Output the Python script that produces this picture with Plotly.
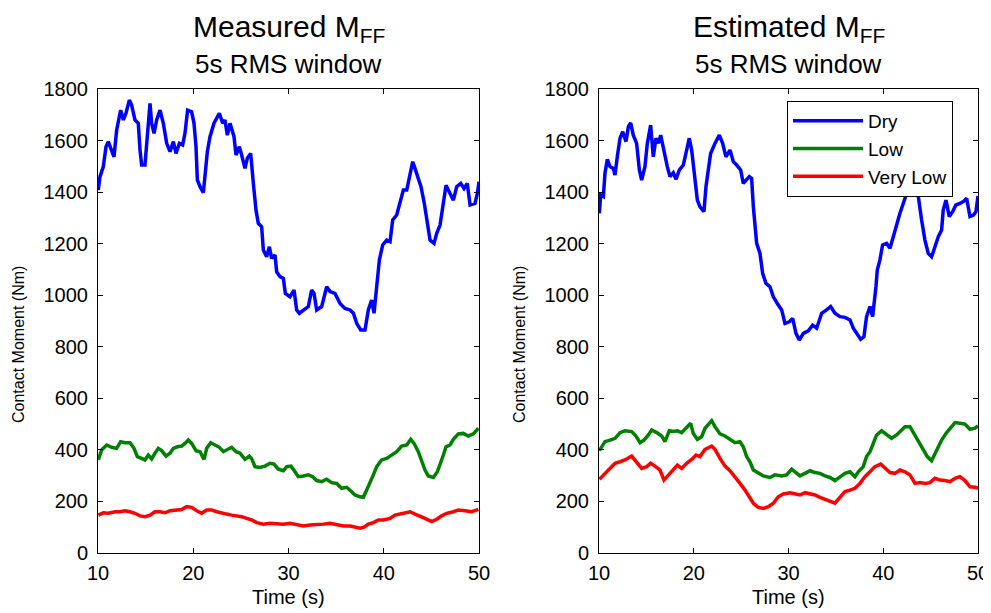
import plotly.graph_objects as go

# ---------------- data (time s, contact moment Nm) ----------------
measured_dry = [(10.03,1408),(10.21,1460),(10.56,1499),(10.84,1576),(11.08,1596),(11.43,1563),(11.68,1537),(11.96,1641),
    (12.38,1718),(12.66,1680),(12.94,1706),(13.29,1757),(13.53,1738),(13.88,1680),(14.23,1667),(14.41,1563),(14.58,1505),
    (14.93,1505),(15.11,1602),(15.46,1744),(15.63,1667),(15.88,1628),(16.16,1680),(16.51,1718),(16.86,1667),(17.21,1589),
    (17.56,1557),(17.91,1596),(18.19,1550),(18.54,1589),(18.89,1583),(19.13,1628),(19.41,1718),(19.83,1712),(20.08,1667),
    (20.29,1576),(20.43,1447),(20.71,1421),(21.06,1398),(21.23,1473),(21.48,1557),(21.76,1615),(22.18,1667),(22.74,1706),
    (23.09,1667),(23.33,1680),(23.58,1621),(23.86,1667),(24.28,1615),(24.49,1544),(24.84,1576),(25.08,1544),(25.43,1492),
    (25.68,1531),(26.03,1550),(26.31,1434),(26.59,1330),(26.83,1279),(27.18,1266),(27.36,1175),(27.71,1149),(27.99,1188),
    (28.23,1143),(28.58,1156),(28.76,1091),(29.11,1072),(29.46,1065),(29.67,1007),(30.16,994),(30.58,1020),(30.86,943),
    (31.14,930),(31.56,943),(32.08,956),(32.43,1020),(32.68,1007),(32.96,943),(33.48,956),(34.01,1033),(34.36,1014),
    (34.88,1007),(35.41,968),(35.93,949),(36.46,943),(36.81,930),(37.16,891),(37.58,865),(38.03,865),(38.38,943),
    (38.73,981),(38.98,930),(39.26,1033),(39.54,1137),(39.89,1195),(40.31,1214),(40.66,1208),(40.94,1292),(41.36,1311),
    (41.71,1356),(42.06,1408),(42.41,1408),(42.69,1453),(43.04,1518),(43.28,1492),(43.63,1447),(43.91,1421),(44.26,1356),
    (44.51,1292),(44.86,1214),(45.28,1201),(45.56,1240),(45.91,1272),(46.19,1343),(46.54,1427),(46.96,1395),(47.31,1369),
    (47.66,1421),(48.08,1434),(48.43,1414),(48.77,1434),(49.06,1350),(49.58,1356),(49.83,1395),(50.00,1440)]

measured_low = [(10.03,361),(10.38,400),(10.91,419),(11.43,410),(11.96,406),(12.38,432),(12.83,428),(13.36,428),(13.78,406),
    (14.13,374),(14.58,367),(14.93,361),(15.28,380),(15.63,365),(15.98,387),(16.33,406),(16.68,397),(17.14,376),(17.56,387),
    (17.91,406),(18.33,412),(18.78,415),(19.13,425),(19.48,438),(19.83,425),(20.29,397),(20.71,393),(21.13,363),(21.41,406),
    (21.83,428),(22.28,419),(22.74,410),(23.16,393),(23.58,402),(24.03,410),(24.49,393),(24.91,387),(25.43,363),(25.89,376),
    (26.13,366),(26.48,335),(27.01,332),(27.53,337),(28.06,348),(28.48,345),(28.93,325),(29.46,319),(29.81,335),(30.26,337),
    (30.68,315),(31.03,296),(31.56,299),(32.08,303),(32.54,296),(32.96,281),(33.48,277),(34.01,286),(34.53,273),(35.06,270),
    (35.58,251),(36.11,255),(36.63,238),(36.98,225),(37.51,218),(37.86,216),(38.21,244),(38.56,270),(38.91,303),(39.26,335),
    (39.78,361),(40.31,367),(40.83,380),(41.36,393),(41.88,415),(42.41,419),(42.83,441),(43.18,425),(43.63,393),(43.98,361),
    (44.33,322),(44.68,299),(45.21,293),(45.63,315),(45.91,341),(46.26,380),(46.54,412),(46.96,419),(47.31,441),(47.83,462),
    (48.36,464),(48.88,454),(49.41,462),(49.93,484)]

measured_verylow = [(10.03,147),(10.56,156),(11.08,154),(11.78,160),(12.31,160),(12.83,164),(13.36,160),(13.88,154),
    (14.41,144),(14.93,141),(15.46,147),(15.98,160),(16.51,160),(17.03,156),(17.56,164),(18.26,167),(18.78,169),(19.31,180),
    (19.83,177),(20.36,164),(20.88,154),(21.41,167),(21.93,167),(22.46,160),(22.98,154),(23.51,151),(24.03,147),(24.56,144),
    (25.08,141),(25.61,134),(26.13,128),(26.66,118),(27.36,112),(28.06,115),(28.76,112),(29.46,112),(30.16,115),(30.86,109),
    (31.56,105),(32.26,109),(32.96,109),(33.66,112),(34.36,115),(35.06,109),(35.76,105),(36.46,105),(36.98,100),(37.51,96),
    (37.93,100),(38.38,112),(38.91,118),(39.43,128),(39.96,128),(40.66,134),(41.18,147),(41.71,151),(42.23,156),(42.76,160),
    (43.28,151),(43.81,144),(44.33,134),(45.03,122),(45.56,131),(46.08,144),(46.61,154),(47.31,160),(47.83,167),(48.53,164),
    (49.23,160),(49.93,169)]

estimated_dry = [(10.04,1318),(10.18,1389),(10.46,1383),(10.63,1473),(10.88,1527),(11.16,1499),(11.51,1492),(11.69,1466),
    (11.93,1537),(12.22,1609),(12.50,1634),(12.85,1596),(13.10,1654),(13.34,1669),(13.62,1621),(13.97,1589),(14.26,1486),
    (14.50,1447),(14.85,1499),(15.10,1589),(15.45,1660),(15.73,1537),(16.01,1609),(16.26,1589),(16.51,1621),(16.86,1557),
    (17.21,1499),(17.49,1460),(17.84,1475),(18.13,1450),(18.48,1486),(18.90,1505),(19.25,1563),(19.53,1609),(19.78,1563),
    (20.13,1447),(20.38,1369),(20.66,1343),(21.08,1324),(21.29,1421),(21.54,1486),(21.78,1550),(22.24,1589),(22.70,1621),
    (23.05,1589),(23.40,1537),(23.82,1563),(24.18,1518),(24.53,1505),(24.95,1486),(25.23,1434),(25.58,1447),(25.86,1460),
    (26.11,1453),(26.29,1343),(26.64,1201),(26.99,1162),(27.27,1085),(27.62,1046),(28.04,1033),(28.40,994),(28.82,968),
    (29.28,943),(29.63,891),(30.08,897),(30.44,910),(30.79,852),(31.14,826),(31.56,852),(32.09,862),(32.55,884),(32.97,872),
    (33.50,930),(34.02,943),(34.45,956),(34.90,930),(35.43,917),(35.96,914),(36.49,904),(36.84,872),(37.19,852),(37.61,829),
    (37.96,839),(38.24,917),(38.60,956),(38.88,917),(39.23,1033),(39.37,1098),(39.65,1137),(39.93,1195),(40.36,1201),
    (40.71,1182),(41.06,1227),(41.41,1279),(41.76,1318),(42.11,1356),(42.47,1395),(42.80,1420),(43.20,1440),(43.50,1410),
    (43.70,1383),(44.05,1292),(44.40,1214),(44.75,1162),(45.10,1149),(45.46,1188),(45.81,1227),(46.16,1253),(46.33,1330),
    (46.62,1369),(46.97,1305),(47.32,1324),(47.67,1350),(48.09,1356),(48.45,1363),(48.80,1376),(49.15,1305),(49.51,1311),
    (49.78,1324),(50.00,1385)]

estimated_low = [(10.04,397),(10.63,432),(11.16,438),(11.69,445),(12.22,467),(12.74,474),(13.45,471),(13.90,454),(14.33,428),
    (14.75,438),(15.21,458),(15.56,477),(16.09,467),(16.61,454),(16.96,432),(17.42,474),(17.84,471),(18.27,474),(18.72,467),
    (19.25,490),(19.67,503),(19.95,464),(20.38,441),(20.83,451),(21.19,484),(21.64,503),(21.89,513),(22.24,490),(22.77,462),
    (23.30,454),(23.82,441),(24.35,428),(24.88,432),(25.23,412),(25.58,374),(25.93,354),(26.29,322),(26.81,309),(27.34,299),
    (28.04,293),(28.57,303),(29.28,299),(29.80,303),(30.33,325),(30.68,315),(31.21,299),(31.74,309),(32.27,319),(32.79,312),
    (33.32,309),(33.85,299),(34.38,293),(34.90,281),(35.43,296),(35.96,309),(36.49,315),(37.01,296),(37.37,315),(37.89,335),
    (38.24,374),(38.60,393),(38.95,425),(39.30,458),(39.83,474),(40.36,458),(40.88,445),(41.41,458),(41.94,477),(42.29,490),
    (42.82,490),(43.17,467),(43.70,438),(44.22,400),(44.65,374),(45.10,358),(45.46,387),(45.81,410),(46.16,438),(46.69,467),
    (47.21,490),(47.57,506),(48.09,503),(48.62,500),(49.15,480),(49.68,484),(50.00,493)]

estimated_verylow = [(10.04,286),(10.63,309),(11.16,328),(11.69,348),(12.22,354),(12.74,361),(13.45,376),(13.97,354),
    (14.50,328),(15.03,335),(15.45,348),(15.91,337),(16.44,322),(16.86,283),(17.32,303),(17.84,322),(18.27,341),(18.72,328),
    (19.25,348),(19.78,363),(20.24,380),(20.66,374),(21.19,402),(21.89,415),(22.24,402),(22.77,367),(23.30,337),(23.82,319),
    (24.35,296),(24.88,270),(25.41,244),(25.86,218),(26.29,193),(26.81,177),(27.34,173),(27.87,180),(28.40,193),(28.92,218),
    (29.45,229),(30.15,234),(30.68,231),(31.21,225),(31.74,234),(32.27,231),(32.79,225),(33.32,216),(33.85,208),(34.38,203),
    (34.90,193),(35.43,216),(35.96,238),(36.49,244),(37.01,251),(37.54,270),(38.07,296),(38.60,315),(39.12,335),(39.72,345),
    (40.18,328),(40.71,312),(41.23,309),(41.76,322),(42.29,315),(42.82,303),(43.35,270),(43.87,273),(44.40,270),(44.93,273),
    (45.46,290),(45.98,283),(46.51,281),(47.04,277),(47.57,290),(48.09,296),(48.62,281),(49.15,257),(49.68,255),(50.00,251)]

series_names = ["Dry", "Low", "Very Low"]
series_colors = ["#0000ff", "#008000", "#ff0000"]
x_ticks = [10, 20, 30, 40, 50]
y_ticks = [0, 200, 400, 600, 800, 1000, 1200, 1400, 1600, 1800]

FONT = "Liberation Sans, Arial, Helvetica, sans-serif"
# the page body has an 8px margin, so the figure is sized to fill the rest of the window
OFF = 8
W, H = 991 - OFF, 613 - OFF


def fx(px):
    return (px - OFF) / W


def fy(py):
    return 1 - (py - OFF) / H


fig = go.Figure()

panels = [
    ("x", "y", [measured_dry, measured_low, measured_verylow], False),
    ("x2", "y2", [estimated_dry, estimated_low, estimated_verylow], True),
]
for xa, ya, data, show in panels:
    for name, color, pts in zip(series_names, series_colors, data):
        t, v = zip(*pts)
        fig.add_trace(go.Scatter(x=list(t), y=list(v), mode="lines", name=name,
                                 line=dict(color=color, width=3.5), xaxis=xa, yaxis=ya,
                                 showlegend=show))

ydom = [fy(553), fy(89)]
axis_common = dict(showline=True, linecolor="black", linewidth=1, mirror="ticks",
                   ticks="inside", ticklen=5, tickcolor="black", showgrid=False, zeroline=False,
                   automargin=False,
                   tickfont=dict(family=FONT, size=20, color="black"))

fig.update_layout(
    width=W, height=H,
    paper_bgcolor="white", plot_bgcolor="white",
    margin=dict(l=0, r=0, t=0, b=0, autoexpand=False),
    font=dict(family=FONT, color="black"),
    xaxis=dict(domain=[fx(98), fx(479)], range=[10, 50], tickvals=x_ticks, anchor="y",
               ticklabelstandoff=2, **axis_common),
    yaxis=dict(domain=ydom, range=[0, 1800], tickvals=y_ticks, anchor="x",
               ticklabelstandoff=5, **axis_common),
    xaxis2=dict(domain=[fx(599), fx(978)], range=[10, 50], tickvals=x_ticks, anchor="y2",
                ticklabelstandoff=2, **axis_common),
    yaxis2=dict(domain=ydom, range=[0, 1800], tickvals=y_ticks, anchor="x2",
                ticklabelstandoff=5, **axis_common),
    legend=dict(x=fx(787), y=fy(101), xanchor="left", yanchor="top",
                bgcolor="white", bordercolor="black", borderwidth=1,
                font=dict(family=FONT, size=19, color="black"),
                itemwidth=70, tracegroupgap=0),
)

ann = []
for cx, title in [((98 + 479) / 2, "Measured M<sub>FF</sub>"), ((599 + 978) / 2, "Estimated M<sub>FF</sub>")]:
    ann.append(dict(x=fx(cx), y=fy(28), xref="paper", yref="paper", text=title,
                    showarrow=False, xanchor="center", yanchor="middle",
                    font=dict(family=FONT, size=30, color="black")))
    ann.append(dict(x=fx(cx), y=fy(64), xref="paper", yref="paper", text="5s RMS window",
                    showarrow=False, xanchor="center", yanchor="middle",
                    font=dict(family=FONT, size=26, color="black")))
    ann.append(dict(x=fx(cx), y=fy(597), xref="paper", yref="paper", text="Time (s)",
                    showarrow=False, xanchor="center", yanchor="middle",
                    font=dict(family=FONT, size=20, color="black")))
for lx in [18, 519]:
    ann.append(dict(x=fx(lx), y=fy(345), xref="paper", yref="paper", text="Contact Moment (Nm)",
                    showarrow=False, xanchor="center", yanchor="middle", textangle=-90,
                    font=dict(family=FONT, size=16, color="black")))
fig.update_layout(annotations=ann)

fig.write_html("out.html")
